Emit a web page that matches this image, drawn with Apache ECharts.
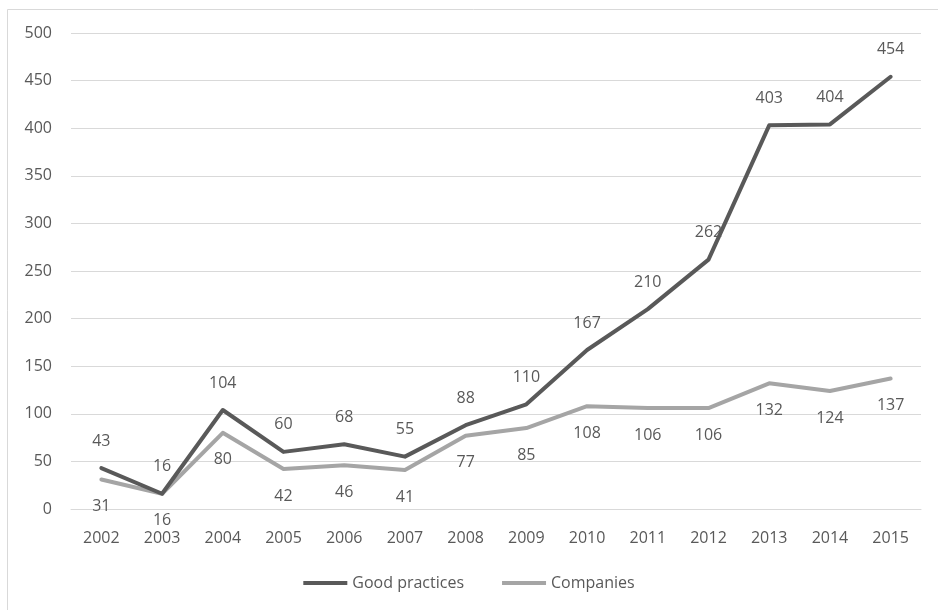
<!DOCTYPE html>
<html>
<head>
<meta charset="utf-8">
<script src="https://cdn.jsdelivr.net/npm/echarts@6/dist/echarts.min.js"></script>
<style>
  html, body { margin: 0; padding: 0; background: #fff; }
  #chart { width: 938px; height: 610px; }
</style>
</head>
<body>
<div id="chart"></div>
<script>
// Yearly counts, 2002–2015
const years = ['2002','2003','2004','2005','2006','2007','2008','2009','2010','2011','2012','2013','2014','2015'];
const goodPractices = [43, 16, 104, 60, 68, 55, 88, 110, 167, 210, 262, 403, 404, 454];
const companies = [31, 16, 80, 42, 46, 41, 77, 85, 108, 106, 106, 132, 124, 137];

const FONT = '"Open Sans", "Noto Sans", sans-serif';
const TEXT = '#595959';

const chart = echarts.init(document.getElementById('chart'), null, { renderer: 'canvas' });

function lineSeries(name, data, color, labelPos, z) {
  return {
    name: name,
    type: 'line',
    data: data,
    symbol: 'circle',
    symbolSize: 0,
    showSymbol: true,
    lineStyle: { color: color, width: 4, cap: 'round', join: 'round' },
    itemStyle: { color: color },
    label: {
      show: true,
      position: labelPos,
      distance: 19,
      fontFamily: FONT,
      fontSize: 16,
      color: TEXT
    },
    emphasis: { disabled: true },
    z: z
  };
}

chart.setOption({
  animation: false,
  backgroundColor: '#ffffff',
  textStyle: { fontFamily: FONT, color: TEXT },
  graphic: [{
    type: 'rect',
    shape: { x: 7.5, y: 9.5, width: 940, height: 620 },
    style: { fill: 'none', stroke: '#d9d9d9', lineWidth: 1 },
    silent: true
  }],
  grid: { left: 71, right: 17, top: 33, bottom: 101, containLabel: false },
  legend: {
    top: 570,
    left: 'center',
    icon: 'rect',
    itemWidth: 44,
    itemHeight: 4,
    itemGap: 38,
    textStyle: { fontFamily: FONT, fontSize: 16, color: TEXT },
    data: ['Good practices', 'Companies']
  },
  xAxis: {
    type: 'category',
    data: years,
    boundaryGap: true,
    axisLine: { show: true, lineStyle: { color: '#d9d9d9', width: 1 } },
    axisTick: { show: false },
    axisLabel: { fontFamily: FONT, fontSize: 16, color: TEXT, margin: 21, interval: 0 }
  },
  yAxis: {
    type: 'value',
    min: 0,
    max: 500,
    interval: 50,
    axisLine: { show: false },
    axisTick: { show: false },
    splitLine: { lineStyle: { color: '#d9d9d9', width: 1 } },
    axisLabel: { fontFamily: FONT, fontSize: 16, color: TEXT, margin: 19 }
  },
  series: [
    lineSeries('Good practices', goodPractices, '#595959', 'top', 3),
    lineSeries('Companies', companies, '#a5a5a5', 'bottom', 2)
  ]
});
</script>
</body>
</html>
